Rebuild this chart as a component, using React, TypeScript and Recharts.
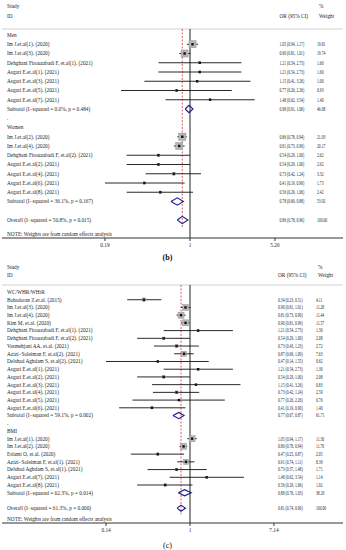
import React from "react";
import {
  ComposedChart,
  Scatter,
  XAxis,
  YAxis,
  ReferenceLine,
  ErrorBar,
} from "recharts";

const FONT = "'Liberation Serif', 'DejaVu Serif', serif";
const INK = "#262626";
const NAVY = "#1b1b8a";

// ---- panel (b): stratified by sex ----
const menStudies = [
  "Im J.et.al(1). (2020)",
  "Im J.et.al(3). (2020)",
  "Dehghani Firouzabadi F, et.al(1). (2021)",
  "Asgari E.et.al(1). (2021)",
  "Asgari E.et.al(3). (2021)",
  "Asgari E.et.al(5). (2021)",
  "Asgari E.et.al(7). (2021)",
];
const menOR = [1.05, 0.9, 1.21, 1.21, 1.15, 0.77, 1.48];
const menLow = [0.94, 0.81, 0.54, 0.54, 0.41, 0.26, 0.62];
const menHigh = [1.17, 1.01, 2.73, 2.73, 3.26, 2.26, 3.54];
const menWeight = [19.81, 19.74, 1.6, 1.6, 1.0, 0.93, 1.4];

const womenStudies = [
  "Im J.et.al(2). (2020)",
  "Im J.et.al(4). (2020)",
  "Dehghani Firouzabadi F, et.al(2). (2021)",
  "Asgari E.et.al(2). (2021)",
  "Asgari E.et.al(4). (2021)",
  "Asgari E.et.al(6). (2021)",
  "Asgari E.et.al(8). (2021)",
];
const womenOR = [0.86, 0.81, 0.54, 0.54, 0.73, 0.41, 0.56];
const womenLow = [0.78, 0.73, 0.29, 0.29, 0.42, 0.19, 0.29];
const womenHigh = [0.94, 0.9, 1.0, 1.0, 1.24, 0.9, 1.06];
const womenWeight = [21.03, 20.17, 2.62, 2.62, 3.32, 1.73, 2.42];

// ---- panel (c): stratified by obesity index ----
const waistStudies = [
  "Bahadoran Z.et.al. (2015)",
  "Im J.et.al(3). (2020)",
  "Im J.et.al(4). (2020)",
  "Kim M, et.al. (2020)",
  "Dehghani Firouzabadi F, et.al(1). (2021)",
  "Dehghani Firouzabadi F, et.al(2). (2021)",
  "Vasmehjani AA, et.al. (2021)",
  "Azizi−Soleiman F, et.al(2). (2021)",
  "Delshad Aghdam S, et.al(2). (2021)",
  "Asgari E.et.al(1). (2021)",
  "Asgari E.et.al(2). (2021)",
  "Asgari E.et.al(3). (2021)",
  "Asgari E.et.al(4). (2021)",
  "Asgari E.et.al(5). (2021)",
  "Asgari E.et.al(6). (2021)",
];
const waistOR = [0.34, 0.9, 0.81, 0.9, 1.21, 0.54, 0.73, 0.87, 0.47, 1.21, 0.54, 1.15, 0.73, 0.77, 0.41];
const waistLow = [0.23, 0.81, 0.73, 0.81, 0.54, 0.29, 0.43, 0.69, 0.14, 0.54, 0.29, 0.41, 0.42, 0.26, 0.19];
const waistHigh = [0.51, 1.01, 0.9, 0.99, 2.73, 1.0, 1.23, 1.09, 1.55, 2.73, 1.0, 3.26, 1.24, 2.26, 0.9];
const waistWeight = [4.11, 11.28, 11.44, 11.57, 1.3, 2.08, 2.72, 7.63, 0.62, 1.3, 2.08, 0.83, 2.59, 0.76, 1.4];

const bmiStudies = [
  "Im J.et.al(1). (2020)",
  "Im J.et.al(2). (2020)",
  "Eslami O, et.al. (2020)",
  "Azizi−Soleiman F, et.al(1). (2021)",
  "Delshad Aghdam S, et.al(1). (2021)",
  "Asgari E.et.al(7). (2021)",
  "Asgari E.et.al(8). (2021)",
];
const bmiOR = [1.05, 0.86, 0.47, 0.91, 0.73, 1.48, 0.56];
const bmiLow = [0.94, 0.78, 0.25, 0.74, 0.37, 0.62, 0.29];
const bmiHigh = [1.17, 0.94, 0.87, 1.11, 1.48, 3.54, 1.06];
const bmiWeight = [11.3, 11.76, 2.05, 8.39, 1.71, 1.14, 1.92];

// subtotals: men, women, WC/WHR/WHtR, BMI
const subLabels = [
  "Subtotal  (I−squared = 0.0%, p = 0.484)",
  "Subtotal  (I−squared = 36.1%, p = 0.167)",
  "Subtotal  (I−squared = 59.1%, p = 0.002)",
  "Subtotal  (I−squared = 62.3%, p = 0.014)",
];
const subOR = [0.98, 0.78, 0.77, 0.88];
const subLow = [0.91, 0.69, 0.67, 0.76];
const subHigh = [1.06, 0.88, 0.87, 1.03];
const subWeight = [46.08, 53.92, 61.71, 38.29];

// overall: panel b, panel c
const overallLabels = [
  "Overall  (I−squared = 50.8%, p = 0.015)",
  "Overall  (I−squared = 61.3%, p = 0.000)",
];
const overallOR = [0.86, 0.81];
const overallLow = [0.78, 0.74];
const overallHigh = [0.96, 0.9];

const bTicks = [0.19, 1, 5.26];
const cTicks = [0.14, 1, 7.14];

const NOTE = "NOTE: Weights are from random effects analysis";

type Group = {
  title: string;
  studies: string[];
  or: number[];
  lo: number[];
  hi: number[];
  w: number[];
  sub: number;
};

type Row = { x: number; y: number; label?: string; ci?: string; w?: string; head?: boolean };

const f2 = (v: number) => v.toFixed(2);
const ciText = (or: number, lo: number, hi: number) => `${f2(or)} (${f2(lo)}, ${f2(hi)})`;

function diamond(or: number, lo: number, hi: number, r: number) {
  const h = 0.4;
  return [
    { x: lo, y: r },
    { x: or, y: r - h },
    { x: hi, y: r },
    { x: or, y: r + h },
    { x: lo, y: r },
  ];
}

function buildPanel(groups: Group[], ov: number, head: number[], noteGap: number) {
  // rows sit at x = 1 only so the text layer has an anchor on the scale
  const rows: Row[] = [
    { x: 1, y: head[0], label: "Study", w: "%", head: true },
    { x: 1, y: head[1], label: "ID", ci: "OR (95% CI)", w: "Weight", head: true },
  ];
  const points: any[] = [];
  const diamonds: any[][] = [];
  let r = 0;
  groups.forEach((g, gi) => {
    rows.push({ x: 1, y: r, label: g.title });
    r++;
    g.studies.forEach((s, i) => {
      rows.push({ x: 1, y: r, label: s, ci: ciText(g.or[i], g.lo[i], g.hi[i]), w: f2(g.w[i]) });
      points.push({ x: g.or[i], y: r, w: g.w[i], err: [g.or[i] - g.lo[i], g.hi[i] - g.or[i]] });
      r++;
    });
    const k = g.sub;
    rows.push({ x: 1, y: r, label: subLabels[k], ci: ciText(subOR[k], subLow[k], subHigh[k]), w: f2(subWeight[k]) });
    diamonds.push(diamond(subOR[k], subLow[k], subHigh[k], r));
    r++;
    if (gi < groups.length - 1) rows.push({ x: 1, y: r, label: "." });
    r++;
  });
  rows.push({
    x: 1,
    y: r,
    label: overallLabels[ov],
    ci: ciText(overallOR[ov], overallLow[ov], overallHigh[ov]),
    w: "100.00",
  });
  diamonds.push(diamond(overallOR[ov], overallLow[ov], overallHigh[ov], r));
  const noteRow = r + noteGap;
  rows.push({ x: 1, y: noteRow, label: NOTE });
  return { rows, points, diamonds, noteRow };
}

type PanelProps = {
  groups: Group[];
  ov: number;
  head: number[];
  headLine: number;
  noteGap: number;
  yDomain: [number, number];
  xDomain: [number, number];
  ticks: number[];
  height: number;
  axisHeight: number;
  boxScale: number;
  ciX: number;
  wX: number;
  tag: string;
  tagBold: boolean;
};

function ForestPanel(p: PanelProps) {
  const { rows, points, diamonds, noteRow } = buildPanel(p.groups, p.ov, p.head, p.noteGap);
  const fs = 5.3;
  const sx = 0.7;

  const textShape = (s: any) => {
    const row: Row = s.payload;
    const y = s.cy;
    return (
      <g fontFamily={FONT} fontSize={fs} fill={INK}>
        {row.label && (
          <text x={7} y={y} dy="0.35em">
            {row.label}
          </text>
        )}
        {row.ci &&
          (row.head ? (
            <text x={p.ciX} y={y} dy="0.35em">
              {row.ci}
            </text>
          ) : (
            <text transform={`translate(${p.ciX},${y}) scale(${sx},1)`} dy="0.35em">
              {row.ci}
            </text>
          ))}
        {row.w &&
          (row.head ? (
            <text x={p.wX + 2} y={y} dy="0.35em">
              {row.w}
            </text>
          ) : (
            <text transform={`translate(${p.wX},${y}) scale(${sx},1)`} dy="0.35em">
              {row.w}
            </text>
          ))}
      </g>
    );
  };

  const boxShape = (s: any) => {
    const side = p.boxScale * Math.sqrt(s.payload.w);
    return (
      <rect
        x={s.cx - side / 2}
        y={s.cy - side / 2}
        width={side}
        height={side}
        fill="#b5b5b5"
        stroke="#8c8c8c"
        strokeWidth={0.4}
      />
    );
  };

  const dotShape = (s: any) => (
    <rect x={s.cx - 1.2} y={s.cy - 1.2} width={2.4} height={2.4} fill="#111" />
  );

  return (
    <ComposedChart
      width={346}
      height={p.height}
      margin={{ top: 0, right: 3, bottom: 0, left: 2 }}
    >
      <XAxis
        type="number"
        dataKey="x"
        scale="log"
        domain={p.xDomain}
        allowDataOverflow
        ticks={p.ticks}
        interval={0}
        height={p.axisHeight}
        tickSize={3}
        tickMargin={2}
        stroke="#333"
        tickFormatter={(v: number) => String(v)}
        tick={{ fontSize: fs, fill: INK, fontFamily: FONT }}
        label={{
          value: p.tag,
          position: "insideBottom",
          offset: 2,
          dx: -5,
          style: {
            fontFamily: FONT,
            fontSize: 8,
            fontWeight: p.tagBold ? "bold" : "normal",
            fill: "#111",
          },
        }}
      />
      <YAxis
        type="number"
        dataKey="y"
        domain={p.yDomain}
        reversed
        allowDataOverflow
        hide
        width={0}
      />
      <ReferenceLine y={p.headLine} stroke="#c4c4c4" strokeWidth={0.8} />
      <ReferenceLine
        segment={[
          { x: 1, y: p.headLine },
          { x: 1, y: p.yDomain[1] },
        ]}
        stroke="#222"
        strokeWidth={1}
      />
      <ReferenceLine
        segment={[
          { x: overallOR[p.ov], y: p.headLine },
          { x: overallOR[p.ov], y: noteRow - 0.6 },
        ]}
        stroke="#cc3b3b"
        strokeWidth={0.8}
        strokeDasharray="2 1.5"
      />
      <Scatter data={rows} shape={textShape} isAnimationActive={false} />
      <Scatter data={points} shape={boxShape} isAnimationActive={false} />
      <Scatter data={points} shape={dotShape} isAnimationActive={false}>
        <ErrorBar dataKey="err" direction="x" width={0} stroke="#111" strokeWidth={0.9} />
      </Scatter>
      {diamonds.map((d, i) => (
        <Scatter
          key={i}
          data={d}
          line={{ stroke: NAVY, strokeWidth: 1.1 }}
          lineType="joint"
          shape={() => <g />}
          isAnimationActive={false}
        />
      ))}
    </ComposedChart>
  );
}

const sexGroups: Group[] = [
  { title: "Men", studies: menStudies, or: menOR, lo: menLow, hi: menHigh, w: menWeight, sub: 0 },
  { title: "Women", studies: womenStudies, or: womenOR, lo: womenLow, hi: womenHigh, w: womenWeight, sub: 1 },
];

const indexGroups: Group[] = [
  { title: "WC/WHR/WHtR", studies: waistStudies, or: waistOR, lo: waistLow, hi: waistHigh, w: waistWeight, sub: 2 },
  { title: "BMI", studies: bmiStudies, or: bmiOR, lo: bmiLow, hi: bmiHigh, w: bmiWeight, sub: 3 },
];

export default function App() {
  return (
    <div
      style={{
        position: "absolute",
        left: 0,
        top: 0,
        width: 346,
        height: 550,
        background: "#fff",
      }}
    >
      <ForestPanel
        groups={sexGroups}
        ov={0}
        head={[-3.14, -2.05]}
        headLine={-0.65}
        noteGap={1.5}
        yDomain={[-3.784, 21.946]}
        xDomain={[0.02542, 19.85]}
        ticks={bTicks}
        height={262}
        axisHeight={24}
        boxScale={1.6}
        ciX={279.5}
        wX={317}
        tag="(b)"
        tagBold
      />
      <ForestPanel
        groups={indexGroups}
        ov={1}
        head={[-3.24, -2.14]}
        headLine={-0.91}
        noteGap={1.4}
        yDomain={[-3.886, 29.92]}
        xDomain={[0.01224, 35.98]}
        ticks={cTicks}
        height={288}
        axisHeight={27}
        boxScale={1.8}
        ciX={278}
        wX={316}
        tag="(c)"
        tagBold={false}
      />
    </div>
  );
}
